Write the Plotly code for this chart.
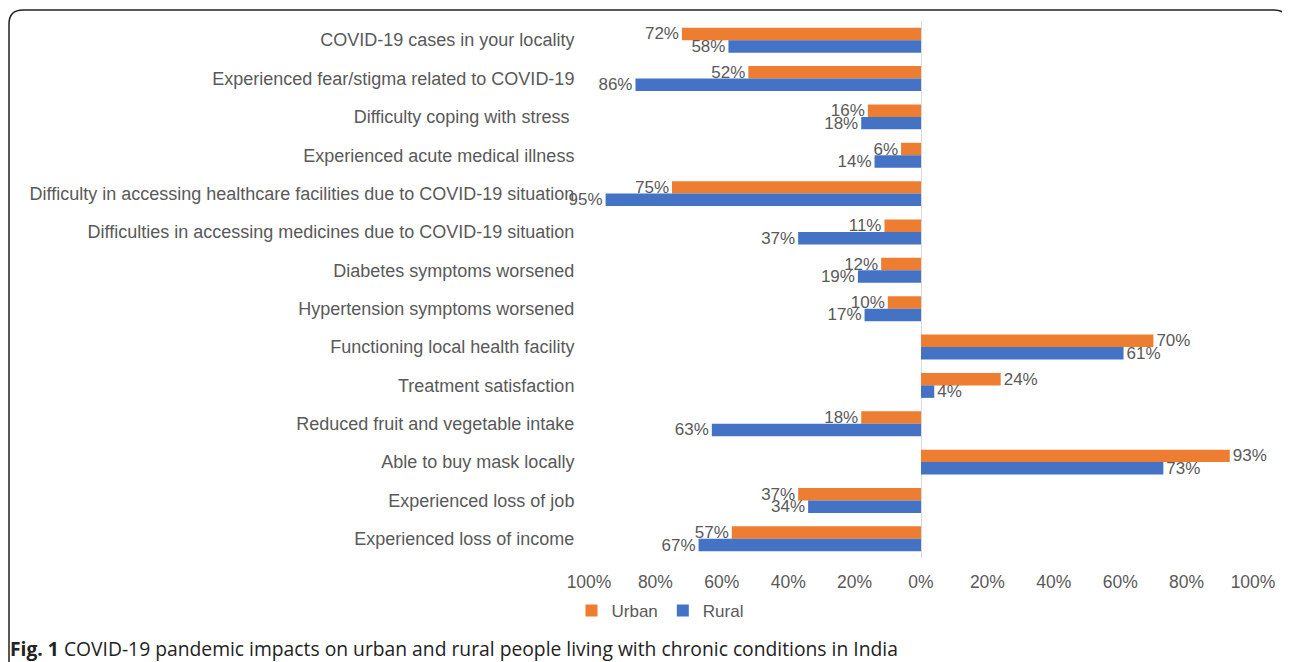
import plotly.graph_objects as go

categories = [
    "COVID-19 cases in your locality",
    "Experienced fear/stigma related to COVID-19",
    "Difficulty coping with stress ",
    "Experienced acute medical illness",
    "Difficulty in accessing healthcare facilities due to COVID-19 situation",
    "Difficulties in accessing medicines due to COVID-19 situation",
    "Diabetes symptoms worsened",
    "Hypertension symptoms worsened",
    "Functioning local health facility",
    "Treatment satisfaction",
    "Reduced fruit and vegetable intake",
    "Able to buy mask locally",
    "Experienced loss of job",
    "Experienced loss of income",
]
urban = [-72, -52, -16, -6, -75, -11, -12, -10, 70, 24, -18, 93, -37, -57]
rural = [-58, -86, -18, -14, -95, -37, -19, -17, 61, 4, -63, 73, -34, -67]
tick_vals = [-100, -80, -60, -40, -20, 0, 20, 40, 60, 80, 100]
tick_text = ["100%", "80%", "60%", "40%", "20%", "0%", "20%", "40%", "60%", "80%", "100%"]

ORANGE = "#ED7D31"
BLUE = "#4472C4"
GREY = "#595959"
FONT = "Liberation Sans, Arial, sans-serif"

fig = go.Figure()
fig.add_trace(go.Bar(
    name="Urban", y=categories, x=urban, orientation="h",
    marker=dict(color=ORANGE, line=dict(width=0)),
    text=[f"{abs(v)}%" for v in urban], textposition="outside",
    textfont=dict(color=GREY, size=17, family=FONT),
    cliponaxis=False, constraintext="none",
))
fig.add_trace(go.Bar(
    name="Rural", y=categories, x=rural, orientation="h",
    marker=dict(color=BLUE, line=dict(width=0)),
    text=[f"{abs(v)}%" for v in rural], textposition="outside",
    textfont=dict(color=GREY, size=17, family=FONT),
    cliponaxis=False, constraintext="none",
))

# page body has an 8px margin, so the figure is drawn at (8, 8) on screen
OFF = 8
W, H = 1290 - OFF, 662 - OFF
L, R, T, B = 589 - OFF, 37, 21 - OFF, 104
pw, ph = W - L - R, H - T - B


def px_x(px):
    return (px - OFF - L) / pw


def px_y(py):
    return (H - B - (py - OFF)) / ph


# rounded border box (screen px converted to paper)
x0, x1, y0, y1, r = 9, 1288, 10, 720, 14
path = (
    f"M {px_x(x0)},{px_y(y1)} "
    f"L {px_x(x0)},{px_y(y0 + r)} "
    f"Q {px_x(x0)},{px_y(y0)} {px_x(x0 + r)},{px_y(y0)} "
    f"L {px_x(x1 - r)},{px_y(y0)} "
    f"Q {px_x(x1)},{px_y(y0)} {px_x(x1)},{px_y(y0 + r)} "
    f"L {px_x(x1)},{px_y(y1)}"
)

fig.update_layout(
    width=W, height=H,
    margin=dict(l=L, r=R, t=T, b=B, autoexpand=False),
    paper_bgcolor="white", plot_bgcolor="white",
    barmode="group", bargap=0.35, bargroupgap=0,
    font=dict(family=FONT, size=16, color=GREY),
    showlegend=True,
    legend=dict(
        orientation="h", xref="container", yref="container",
        x=(660 - OFF) / W, xanchor="center", y=1 - (611 - OFF) / H, yanchor="middle",
        font=dict(size=17, color=GREY, family=FONT),
        tracegroupgap=0,
    ),
    xaxis=dict(
        range=[-100, 100], tickvals=tick_vals, ticktext=tick_text,
        showgrid=False, zeroline=True, zerolinecolor="#D9D9D9", zerolinewidth=1,
        ticks="outside", ticklen=8, tickcolor="rgba(0,0,0,0)",
        tickfont=dict(size=17.5, color=GREY, family=FONT), showline=False,
    ),
    yaxis=dict(
        autorange="reversed", showgrid=False, zeroline=False, showline=False,
        ticks="outside", ticklen=10, tickcolor="rgba(0,0,0,0)",
        tickfont=dict(size=18, color=GREY, family=FONT),
    ),
    shapes=[dict(type="path", xref="paper", yref="paper", path=path,
                 line=dict(color="#222222", width=1.5), fillcolor="rgba(0,0,0,0)")],
    annotations=[dict(
        xref="paper", yref="paper", x=px_x(8), y=px_y(648),
        xanchor="left", yanchor="middle", showarrow=False,
        text="<b>Fig. 1</b> COVID-19 pandemic impacts on urban and rural people living with chronic conditions in India",
        font=dict(family="Open Sans, sans-serif", size=19.3, color="#222222"),
    )],
)

fig.write_html("out.html")
